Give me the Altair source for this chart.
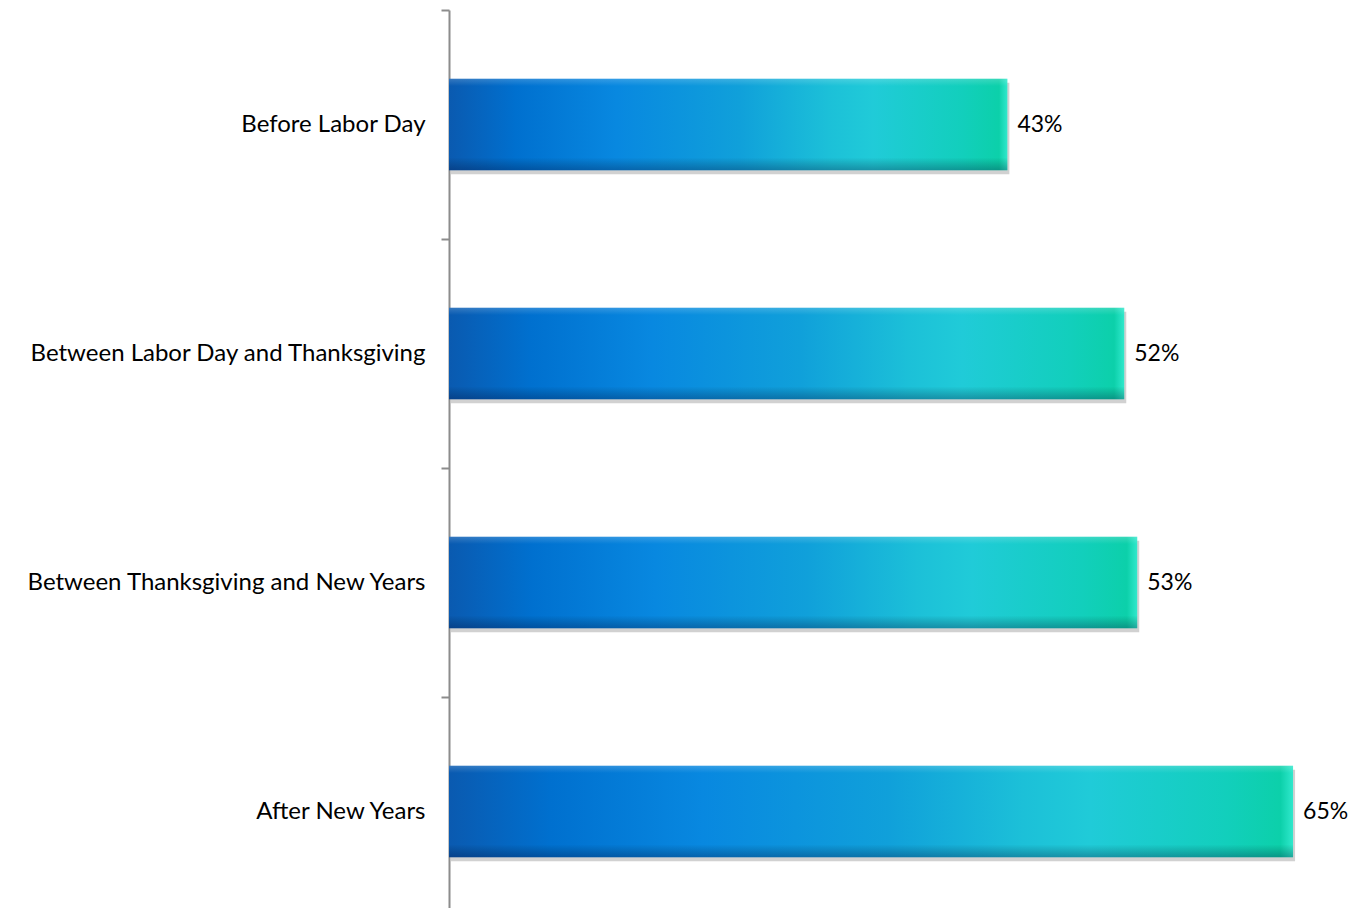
import altair as alt
import pandas as pd

categories = [
    "Before Labor Day",
    "Between Labor Day and Thanksgiving",
    "Between Thanksgiving and New Years",
    "After New Years",
]
values = [0.43, 0.52, 0.53, 0.65]

df = pd.DataFrame({"period": categories, "share": values})

FONT = "Lato"
STEP = 229

y_enc = alt.Y(
    "period:N",
    sort=categories,
    title=None,
    scale=alt.Scale(range=[0, 4 * STEP], paddingInner=0.6, paddingOuter=0.3),
    axis=alt.Axis(
        domainColor="#8c8c8c",
        domainWidth=2,
        tickColor="#8c8c8c",
        tickWidth=2,
        tickSize=8,
        tickOffset=-STEP / 2,
        labelOffset=STEP / 2,
        labelFont=FONT,
        labelFontSize=24,
        labelColor="#000000",
        labelPadding=16,
        labelLimit=0,
    ),
)
x_enc = alt.X("share:Q", title=None, axis=None, scale=alt.Scale(domain=[0, 0.69]))

base = alt.Chart(df)

shadow = base.mark_bar(color="#7a7a7a", opacity=0.35, yOffset=4, xOffset=2).encode(
    x=x_enc, y=y_enc
)

grad = alt.Gradient(
    gradient="linear",
    x1=0, x2=1, y1=0, y2=0,
    stops=[
        alt.GradientStop(color="#0a5ab0", offset=0.0),
        alt.GradientStop(color="#0070cf", offset=0.12),
        alt.GradientStop(color="#0888e0", offset=0.3),
        alt.GradientStop(color="#10a0da", offset=0.52),
        alt.GradientStop(color="#1cc0d8", offset=0.68),
        alt.GradientStop(color="#20cbd8", offset=0.76),
        alt.GradientStop(color="#12cfbc", offset=0.92),
        alt.GradientStop(color="#0cd0aa", offset=0.985),
        alt.GradientStop(color="#30e8cc", offset=1.0),
    ],
)
bars = base.mark_bar(color=grad).encode(x=x_enc, y=y_enc)

bevel = alt.Gradient(
    gradient="linear",
    x1=0, x2=0, y1=0, y2=1,
    stops=[
        alt.GradientStop(color="rgba(255,255,255,0.18)", offset=0.0),
        alt.GradientStop(color="rgba(255,255,255,0)", offset=0.08),
        alt.GradientStop(color="rgba(0,0,0,0)", offset=0.86),
        alt.GradientStop(color="rgba(0,0,40,0.28)", offset=1.0),
    ],
)
bevel_bars = base.mark_bar(color=bevel).encode(x=x_enc, y=y_enc)

labels = base.mark_text(
    align="left", baseline="middle", dx=10, font=FONT, fontSize=23, color="#000000"
).encode(x=x_enc, y=y_enc, text=alt.Text("share:Q", format=".0%"))

chart = (
    alt.layer(shadow, bars, bevel_bars, labels)
    .properties(
        width=896,
        height=898,
        autosize=alt.AutoSizeParams(type="none"),
        padding={"left": 441, "top": 2, "right": 4, "bottom": 0},
        background="#ffffff",
    )
    .configure_view(strokeWidth=0)
)

chart.save("out.html", embed_options={"renderer": "svg", "actions": False})
